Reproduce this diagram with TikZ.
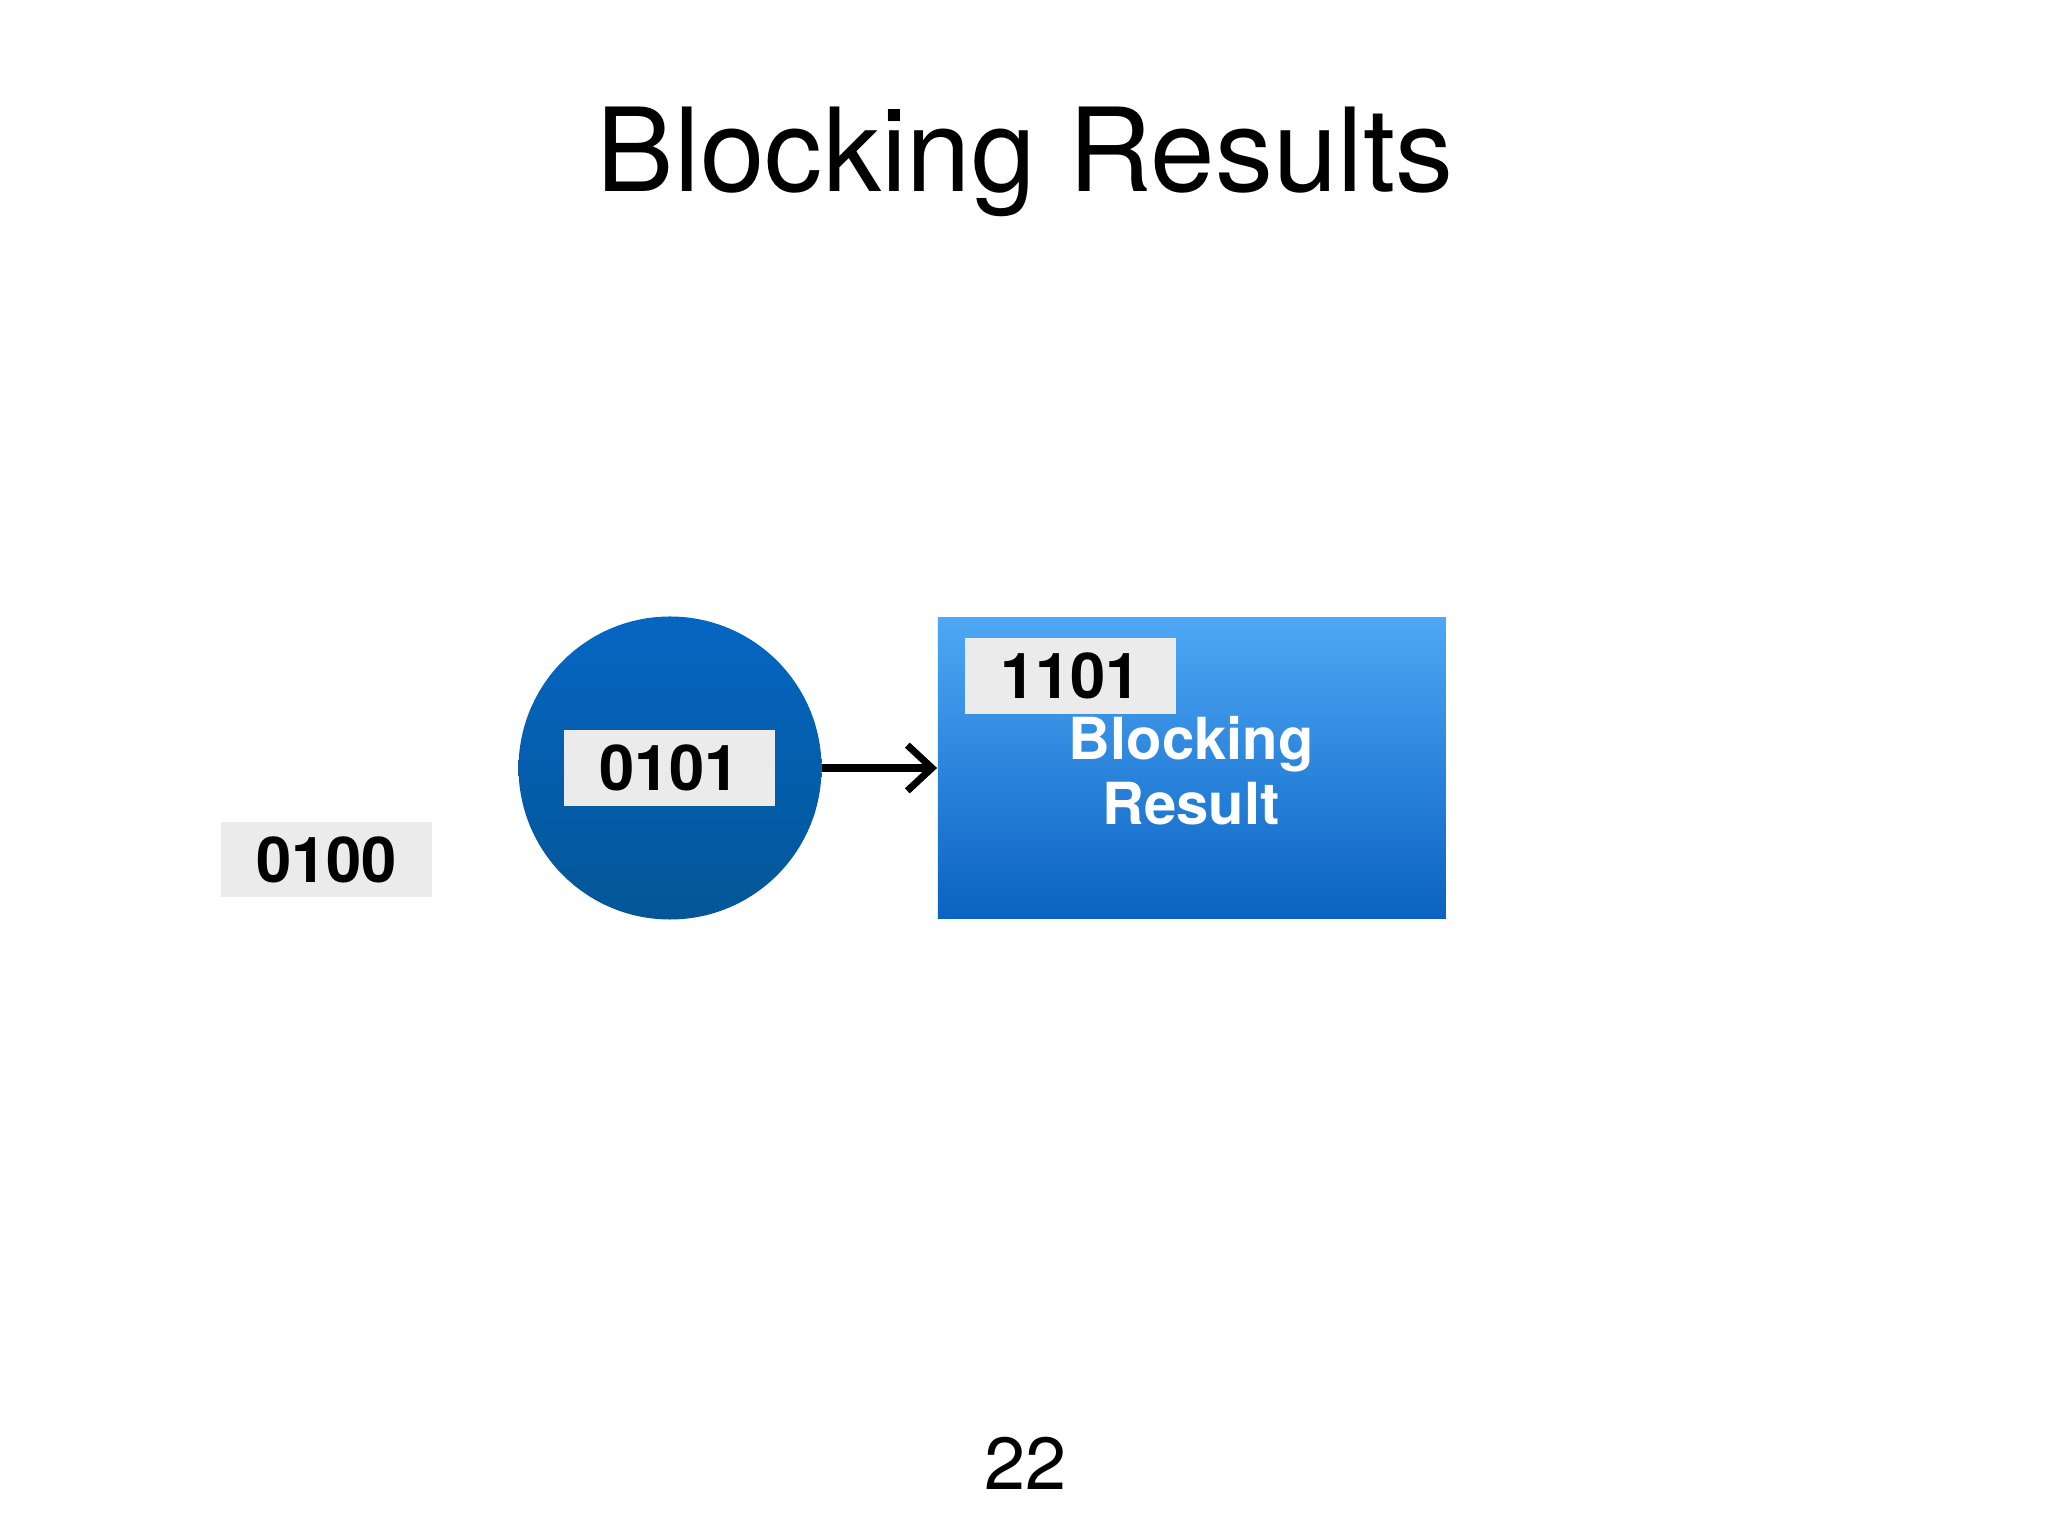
\documentclass[tikz,border=0pt]{standalone}
\usepackage{fontspec}
\setmainfont{TeX Gyre Heros}
\usetikzlibrary{arrows.meta}
\definecolor{circtop}{HTML}{0566C2}
\definecolor{circbot}{HTML}{045697}
\definecolor{recttop}{HTML}{4EA8F5}
\definecolor{rectbot}{HTML}{0A62C2}
\definecolor{tag}{HTML}{EBEBEB}
\begin{document}
\begin{tikzpicture}[x=0.013061cm,y=-0.013061cm,
  tagbox/.style={fill=tag,minimum width=161*0.013061cm,minimum height=58*0.013061cm,inner sep=0pt,font=\fontsize{18}{20}\selectfont\bfseries},
  conn/.style={line width=2pt,-{Straight Barb[length=7pt,width=13pt,line width=2pt]}}]
\useasboundingbox (0,0) rectangle (1568,1176);
\node[font=\fontsize{33}{40}\selectfont] (title) at (785,124) {Blocking Results};
\node[circle,minimum size=232*0.013061cm,inner sep=0pt,top color=circtop,bottom color=circbot] (c) at (513,588) {};
\node[tagbox,text depth=-6pt] (t1) at (512.5,588) {0101};
\node[tagbox,text depth=-6pt] (t0) at (250,658) {0100};
\node[rectangle,minimum width=389*0.013061cm,minimum height=230*0.013061cm,inner sep=0pt,top color=recttop,bottom color=rectbot] (r) at (912.5,588) {};
\node[tagbox,text depth=-6pt] (t2) at (819.5,517.5) {1101};
\node[text=white,font=\fontsize{16.5}{18.6}\selectfont\bfseries,align=center] (lbl) at (912,590) {Blocking\\Result};
\draw[conn] (c.east) -- (r.west);
\node[font=\fontsize{21}{24}\selectfont] (pg) at (785,1120) {22};
\end{tikzpicture}
\end{document}
